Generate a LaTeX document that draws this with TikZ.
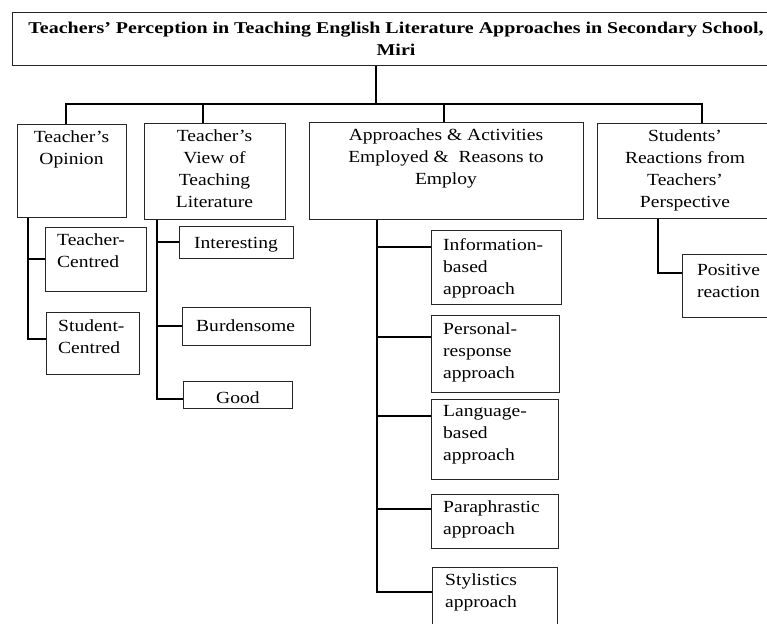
\documentclass[tikz,border=0pt]{standalone}
\usepackage{fontspec}
\setmainfont{Liberation Serif}[FakeStretch=1.15]
\newfontfamily\titlefont{Liberation Serif}[FakeStretch=1.21]
\begin{document}
\begin{tikzpicture}[x=1pt,y=-1pt,
  box/.style={draw=black!85, line width=0.9pt, rectangle, inner sep=0pt, anchor=north west},
  conn/.style={draw=black, line width=2pt},
  txt/.style={font=\fontsize{17}{22}\selectfont, inner sep=0pt, execute at begin node=\strut},
  ctxt/.style={txt, align=center, anchor=north},
  ltxt/.style={txt, align=left, anchor=north west},
  ttl/.style={font=\titlefont\bfseries\fontsize{16.5}{22}\selectfont, inner sep=0pt, align=center, anchor=north, execute at begin node=\strut}]
\useasboundingbox (0,0) rectangle (767,623);
\clip (0,0) rectangle (767,623);
% boxes
\node[box, minimum width=766pt, minimum height=53pt] (title) at (12,12) {};
\node[box, minimum width=109pt, minimum height=93pt] (op) at (17,124) {};
\node[box, minimum width=141pt, minimum height=96pt] (vw) at (144,123) {};
\node[box, minimum width=274pt, minimum height=97pt] (ap) at (309,122) {};
\node[box, minimum width=176pt, minimum height=95pt] (sr) at (597,123) {};
\node[box, minimum width=101pt, minimum height=64pt] (tc) at (45,227) {};
\node[box, minimum width=93pt, minimum height=62pt] (sc) at (46,312) {};
\node[box, minimum width=114pt, minimum height=32pt] (int) at (179,226) {};
\node[box, minimum width=128pt, minimum height=38pt] (bur) at (182,307) {};
\node[box, minimum width=109pt, minimum height=27pt] (good) at (183,381) {};
\node[box, minimum width=130pt, minimum height=74pt] (info) at (431,230) {};
\node[box, minimum width=128pt, minimum height=77pt] (pers) at (431,315) {};
\node[box, minimum width=127pt, minimum height=80pt] (lang) at (431,399) {};
\node[box, minimum width=127pt, minimum height=54pt] (para) at (431,494) {};
\node[box, minimum width=125pt, minimum height=70pt] (sty) at (432,567) {};
\node[box, minimum width=93pt, minimum height=63pt] (pos) at (682,254) {};
% texts
\node[ttl] (ttltext) at (396,21.6) {Teachers’ Perception in Teaching English Literature Approaches in Secondary School,\\Miri};
\node[ctxt] (t-op) at (71.5,130.6) {Teacher’s\\Opinion};
\node[ctxt] (t-vw) at (214.5,129.6) {Teacher’s\\View of\\Teaching\\Literature};
\node[ctxt] (t-ap) at (446,128.6) {Approaches \& Activities\\Employed \&\ \ Reasons to\\Employ};
\node[ctxt] (t-sr) at (685,129.6) {Students’\\Reactions from\\Teachers’\\Perspective};
\node[ltxt] (t-tc) at (57,233.6) {Teacher-\\Centred};
\node[ltxt] (t-sc) at (58,319.6) {Student-\\Centred};
\node[ltxt] (t-int) at (194,232.6) {Interesting};
\node[ltxt] (t-bur) at (196,315.6) {Burdensome};
\node[ltxt] (t-good) at (216,387.6) {Good};
\node[ltxt] (t-info) at (443,238.6) {Information-\\based\\approach};
\node[ltxt] (t-pers) at (443,322.6) {Personal-\\response\\approach};
\node[ltxt] (t-lang) at (443,405.6) {Language-\\based\\approach};
\node[ltxt] (t-para) at (443,500.6) {Paraphrastic\\approach};
\node[ltxt] (t-sty) at (445,573.6) {Stylistics\\approach};
\node[ctxt] (t-pos) at (728.5,263.6) {Positive\\reaction};
% top connectors
\coordinate (tdrop) at ([xshift=-19pt]title.south);
\coordinate (bar) at ([yshift=-38pt]tdrop);
\coordinate (d1) at ([xshift=49pt]op.north west);
\coordinate (d2) at ([xshift=59pt]vw.north west);
\coordinate (d3) at ([xshift=135pt]ap.north west);
\coordinate (d4) at ([xshift=105pt]sr.north west);
\draw[conn] (tdrop) -- (bar);
\draw[conn] (d1) -- (d1 |- bar) -- (d4 |- bar) -- (d4);
\draw[conn] (d2) -- (d2 |- bar);
\draw[conn] (d3) -- (d3 |- bar);
% branch 1
\coordinate (v1) at ([xshift=11pt]op.south west);
\draw[conn] (v1) |- (tc.west);
\draw[conn] (v1) |- ([yshift=-27pt]sc.north west);
% branch 2
\coordinate (v2) at ([xshift=13pt]vw.south west);
\draw[conn] (v2) |- (int.west);
\draw[conn] (v2) |- (bur.west);
\draw[conn] (v2) |- ([yshift=-18pt]good.north west);
% branch 3
\coordinate (v3) at ([xshift=68pt]ap.south west);
\draw[conn] (v3) |- ([yshift=-17pt]info.north west);
\draw[conn] (v3) |- ([yshift=-22pt]pers.north west);
\draw[conn] (v3) |- ([yshift=-17pt]lang.north west);
\draw[conn] (v3) |- ([yshift=-15pt]para.north west);
\draw[conn] (v3) |- ([yshift=-25pt]sty.north west);
% branch 4
\coordinate (v4) at ([xshift=61pt]sr.south west);
\draw[conn] (v4) |- ([yshift=-19pt]pos.north west);
\end{tikzpicture}
\end{document}
